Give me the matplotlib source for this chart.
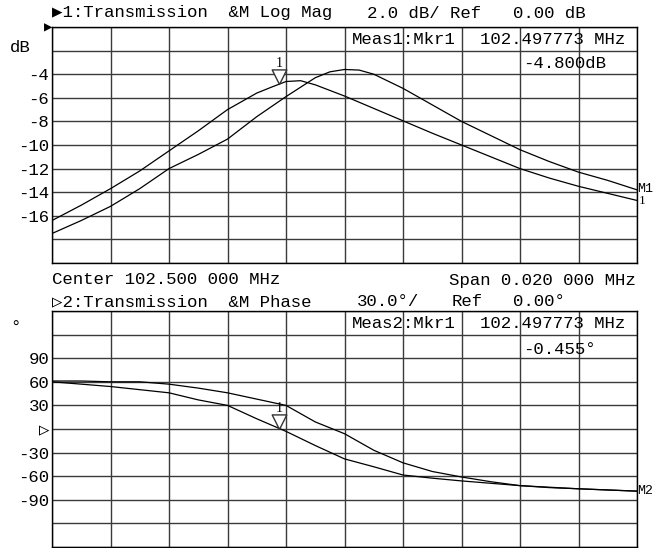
import numpy as np
import matplotlib
matplotlib.use('Agg')
import matplotlib.pyplot as plt
from matplotlib.path import Path

# frequency offsets from centre 102.500 MHz, in kHz
mag_a_f = [-10, -9, -8, -7, -6, -5, -4, -3, -2.5, -2, -1.5, -1, 0, 1, 2, 3, 4, 5, 6, 7, 8, 9, 10]
mag_a = [-16.4, -15.1, -13.7, -12.2, -10.5, -8.8, -7.0, -5.6, -5.1, -4.62, -4.55, -4.9, -5.85,
         -6.9, -7.95, -9.0, -10.0, -11.0, -12.0, -12.8, -13.5, -14.1, -14.7]
mag_b_f = [-10, -9, -8, -7, -6, -5, -4, -3, -2, -1, -0.5, 0, 0.5, 1, 1.5, 2, 3, 4, 5, 6, 7, 8, 9, 10]
mag_b = [-17.5, -16.4, -15.2, -13.7, -12.0, -10.8, -9.5, -7.6, -5.9, -4.3, -3.8, -3.6, -3.65,
         -4.0, -4.6, -5.2, -6.6, -8.0, -9.2, -10.4, -11.4, -12.3, -13.0, -13.8]

ph_f = [-10, -9, -8, -7, -6, -5, -4, -3, -2, -1, 0, 1, 2, 3, 4, 5, 6, 7, 8, 9, 10]
ph_a = [60, 57, 54, 50, 46, 37, 30, 13, -3, -21, -38, -48, -58.5, -62.5, -66, -69, -72, -74, -76, -77.5, -79]
ph_b = [61, 61, 60, 60, 57, 52, 46, 38, 30, 9, -6, -27, -43, -54, -61, -67, -72, -74.5, -76, -77.5, -79]

# marker 1 : 102.497773 MHz
mkr_f = -2.227
mkr_mag = -4.8
mkr_ph = -0.455

mag_ticks = [0, -2, -4, -6, -8, -10, -12, -14, -16, -18, -20]
mag_labels = ['', '', '-4', '-6', '-8', '-10', '-12', '-14', '-16', '', '']
ph_ticks = [150, 120, 90, 60, 30, 0, -30, -60, -90, -120, -150]
ph_labels = ['', '', '90', '60', '30', '\u25b7', '-30', '-60', '-90', '', '']

W, H = 654, 548
plt.rcParams['font.family'] = ['Liberation Mono', 'DejaVu Sans Mono']
plt.rcParams['font.size'] = 12.5

fig = plt.figure(figsize=(W / 100, H / 100), dpi=100)


def put(x, y, s, ha='left', **kw):
    # place text by pixel position in the screenshot
    fig.text(x / W, 1 - y / H, s, ha=ha, va='center', **kw)


def setup(ax, ylim, ticks, labels):
    ax.set_xlim(-10, 10)
    ax.set_ylim(*ylim)
    ax.set_xticks(np.arange(-10, 11, 2))
    ax.set_xticklabels([])
    ax.set_yticks(ticks)
    ax.set_yticklabels(labels)
    ax.tick_params(length=0, pad=2, labelsize=12.5)
    ax.grid(True, color='#3a3a3a', linewidth=1)
    for s in ax.spines.values():
        s.set_color('black')
        s.set_linewidth(1)


tri = Path([(-1, 2), (1, 2), (0, 0), (-1, 2)], closed=True)

ax1 = fig.add_axes([52 / W, 1 - 263 / H, 585 / W, 236 / H])
setup(ax1, (-20, 0), mag_ticks, mag_labels)
ax1.plot(mag_a_f, mag_a, color='black', lw=0.9)
ax1.plot(mag_b_f, mag_b, color='black', lw=0.9)
ax1.plot([mkr_f], [mkr_mag], marker=tri, ms=21, mfc='white', mec='#333', mew=1, ls='none')
ax1.annotate('1', (mkr_f, mkr_mag), xytext=(0, 10), textcoords='offset points',
             ha='center', va='bottom', fontsize=10, family='Liberation Serif')

ax2 = fig.add_axes([52 / W, 1 - 547 / H, 585 / W, 236 / H])
setup(ax2, (-150, 150), ph_ticks, ph_labels)
ax2.plot(ph_f, ph_a, color='black', lw=0.9)
ax2.plot(ph_f, ph_b, color='black', lw=0.9)
ax2.plot([mkr_f], [mkr_ph], marker=tri, ms=21, mfc='none', mec='#333', mew=1, ls='none')
ax2.annotate('1', (mkr_f, mkr_ph), xytext=(0, 10), textcoords='offset points',
             ha='center', va='bottom', fontsize=10, family='Liberation Serif')

# header / footer texts
put(52, 13, '\u25b61:Transmission  &M Log Mag')
put(367, 13, '2.0 dB/ Ref')
put(513, 13, '0.00 dB')
put(352, 39, 'Meas1:Mkr1')
put(480, 39, '102.497773 MHz')
put(523, 63, '-4.800dB')
put(10, 47, 'dB')
put(52, 27, '\u25b6', ha='right', fontsize=10)
put(637, 189, 'M1', fontsize=9.5)
put(639, 201, '1', fontsize=9.5, family='Liberation Serif')

put(52, 280, 'Center 102.500 000 MHz')
put(636, 280, 'Span 0.020 000 MHz', ha='right')
put(52, 302, '\u25b72:Transmission  &M Phase')
put(357, 302, '30.0\u00b0/')
put(452, 302, 'Ref')
put(513, 302, '0.00\u00b0')
put(352, 323, 'Meas2:Mkr1')
put(480, 323, '102.497773 MHz')
put(523, 350, '-0.455\u00b0')
put(10, 328, '\u00b0')
put(637, 491, 'M2', fontsize=9.5)

fig.savefig('out.png', dpi=100)
